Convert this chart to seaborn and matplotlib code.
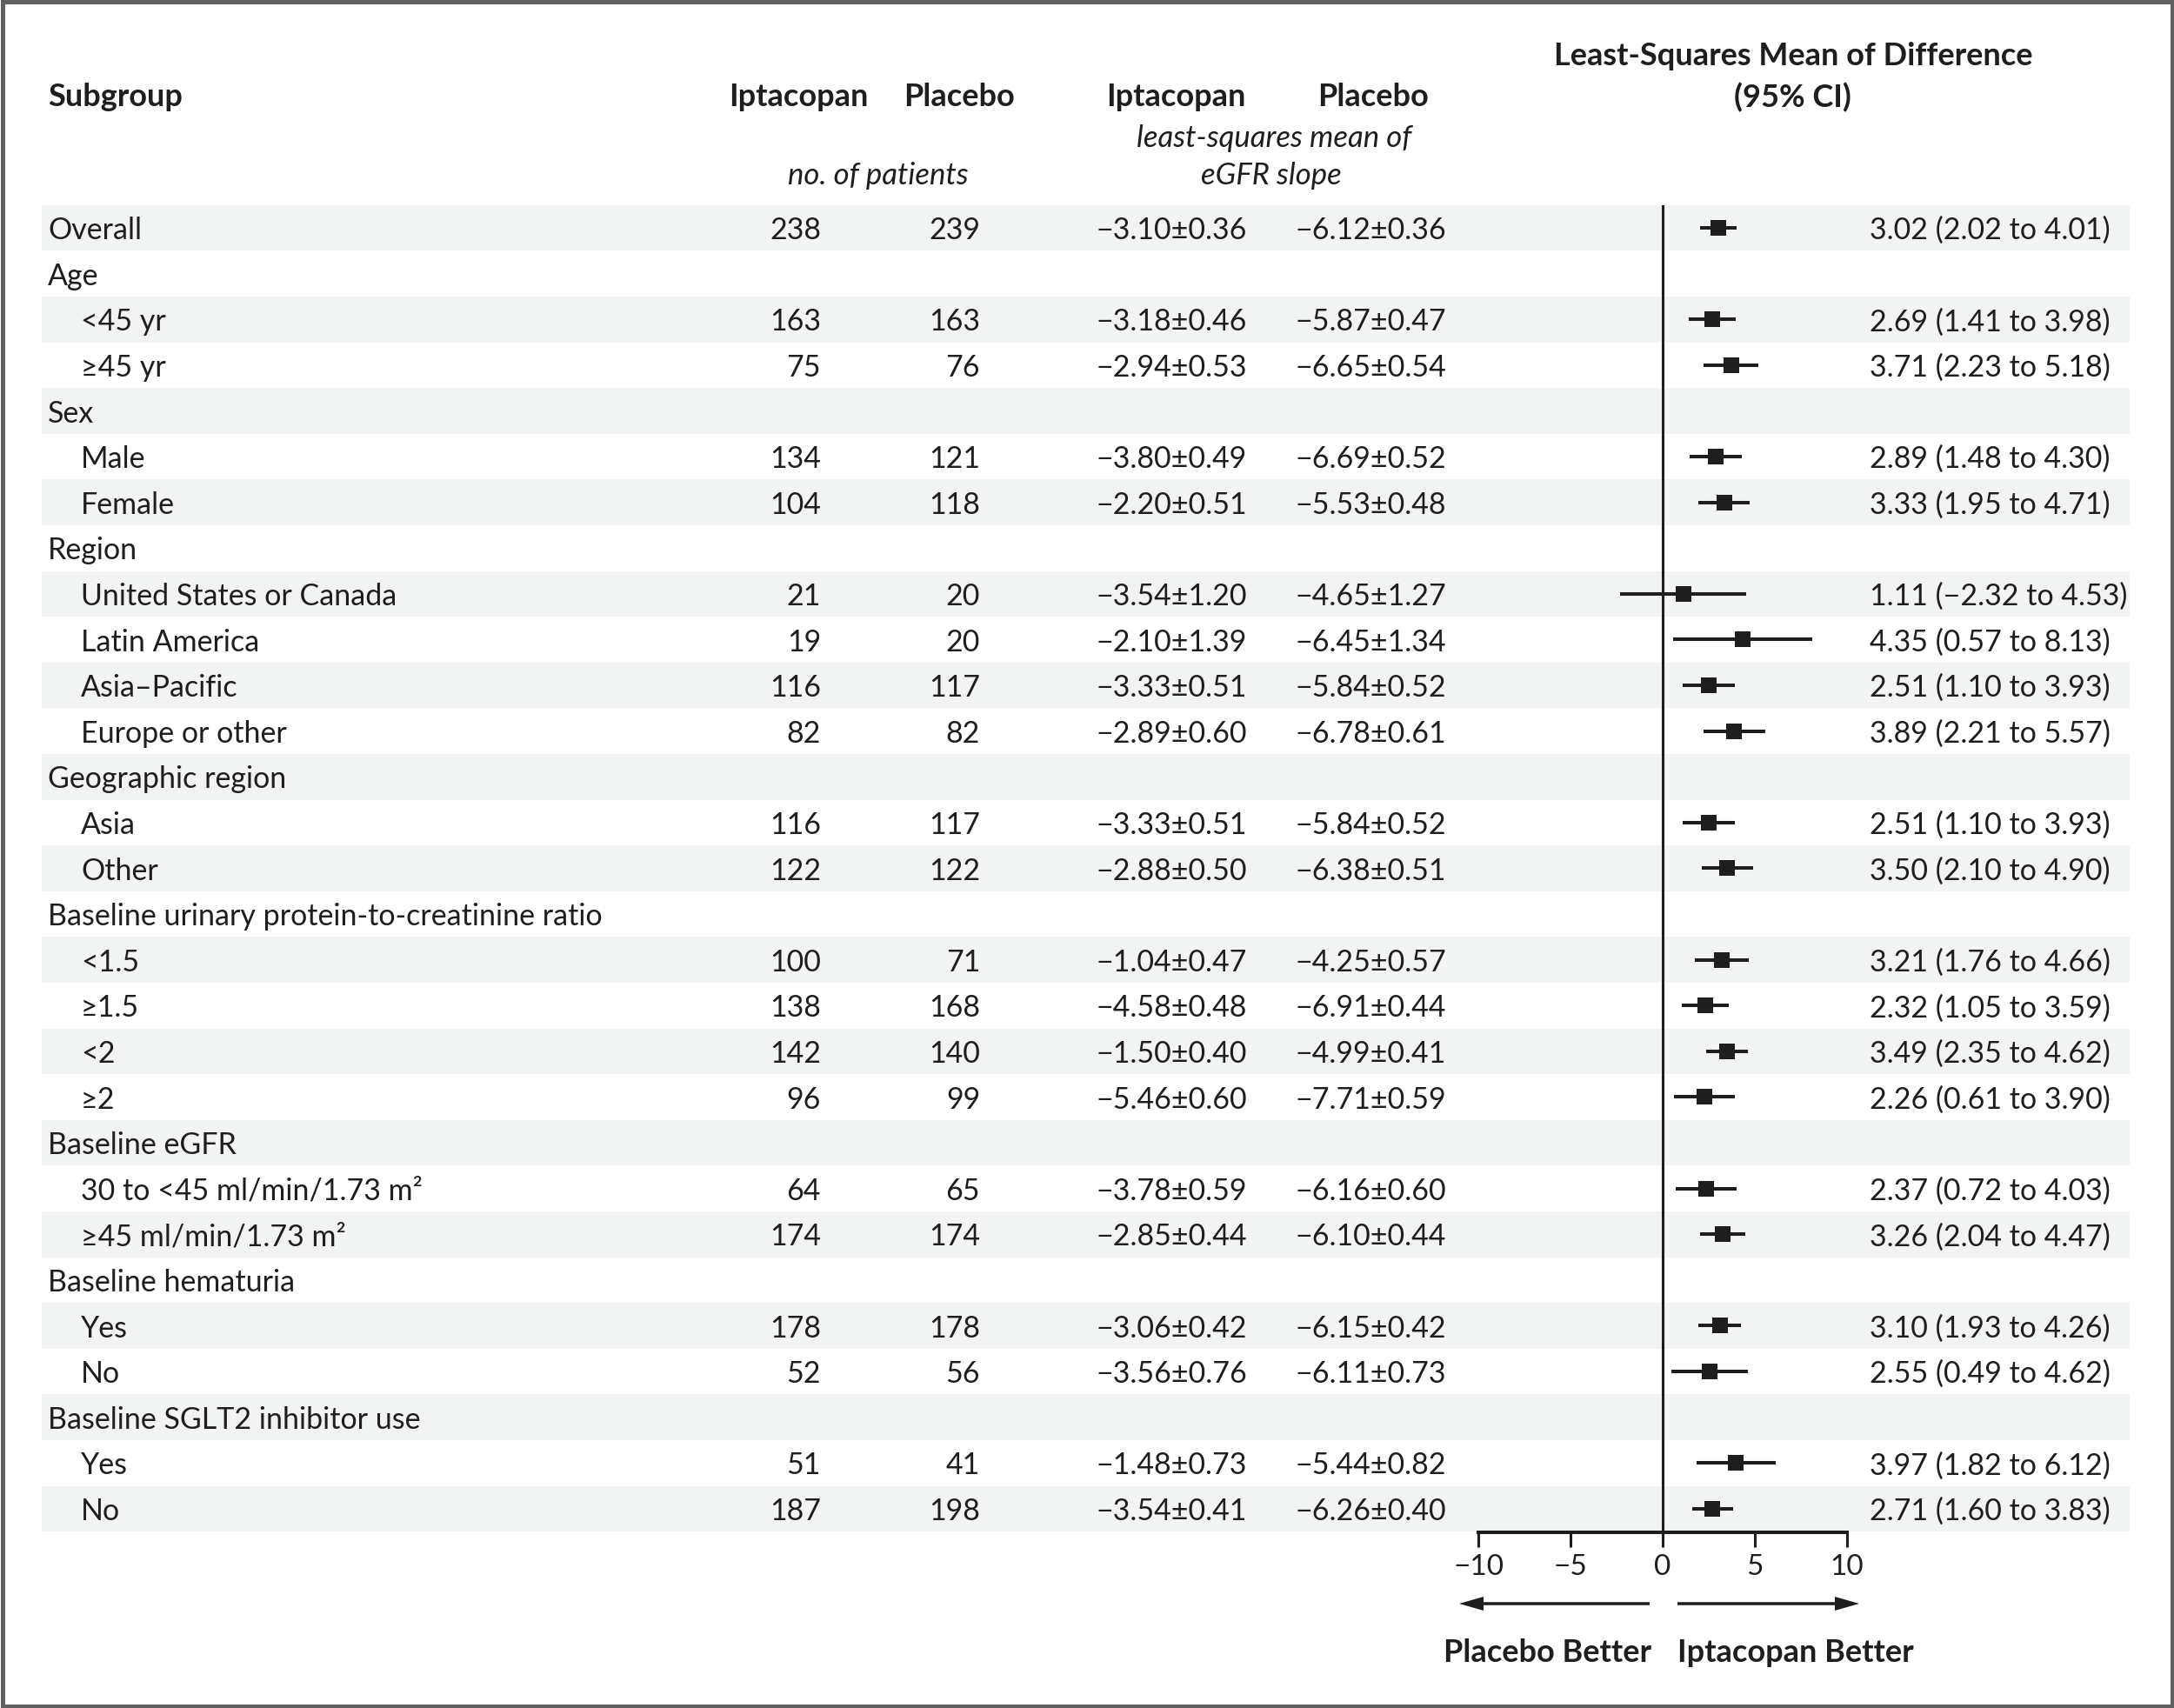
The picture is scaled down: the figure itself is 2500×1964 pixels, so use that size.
import numpy as np
import pandas as pd
import matplotlib
matplotlib.use("Agg")
import matplotlib.pyplot as plt
import matplotlib.transforms as mtransforms
from matplotlib.patches import Rectangle, FancyArrow
import seaborn as sns

# ---------------- data ----------------
subgroups = [
    "Overall", "Age", "<45 yr", "\u226545 yr", "Sex", "Male", "Female", "Region",
    "United States or Canada", "Latin America", "Asia\u2013Pacific", "Europe or other",
    "Geographic region", "Asia", "Other",
    "Baseline urinary protein-to-creatinine ratio", "<1.5", "\u22651.5", "<2", "\u22652",
    "Baseline eGFR", "30 to <45 ml/min/1.73 m\u00b2", "\u226545 ml/min/1.73 m\u00b2",
    "Baseline hematuria", "Yes", "No", "Baseline SGLT2 inhibitor use", "Yes", "No",
]
indented = [0, 0, 1, 1, 0, 1, 1, 0, 1, 1, 1, 1, 0, 1, 1, 0, 1, 1, 1, 1, 0, 1, 1, 0, 1, 1, 0, 1, 1]
nan = np.nan
n_iptacopan = [238, nan, 163, 75, nan, 134, 104, nan, 21, 19, 116, 82, nan, 116, 122,
               nan, 100, 138, 142, 96, nan, 64, 174, nan, 178, 52, nan, 51, 187]
n_placebo = [239, nan, 163, 76, nan, 121, 118, nan, 20, 20, 117, 82, nan, 117, 122,
             nan, 71, 168, 140, 99, nan, 65, 174, nan, 178, 56, nan, 41, 198]
ls_iptacopan = [-3.10, nan, -3.18, -2.94, nan, -3.80, -2.20, nan, -3.54, -2.10, -3.33, -2.89,
                nan, -3.33, -2.88, nan, -1.04, -4.58, -1.50, -5.46, nan, -3.78, -2.85,
                nan, -3.06, -3.56, nan, -1.48, -3.54]
se_iptacopan = [0.36, nan, 0.46, 0.53, nan, 0.49, 0.51, nan, 1.20, 1.39, 0.51, 0.60,
                nan, 0.51, 0.50, nan, 0.47, 0.48, 0.40, 0.60, nan, 0.59, 0.44,
                nan, 0.42, 0.76, nan, 0.73, 0.41]
ls_placebo = [-6.12, nan, -5.87, -6.65, nan, -6.69, -5.53, nan, -4.65, -6.45, -5.84, -6.78,
              nan, -5.84, -6.38, nan, -4.25, -6.91, -4.99, -7.71, nan, -6.16, -6.10,
              nan, -6.15, -6.11, nan, -5.44, -6.26]
se_placebo = [0.36, nan, 0.47, 0.54, nan, 0.52, 0.48, nan, 1.27, 1.34, 0.52, 0.61,
              nan, 0.52, 0.51, nan, 0.57, 0.44, 0.41, 0.59, nan, 0.60, 0.44,
              nan, 0.42, 0.73, nan, 0.82, 0.40]
diff = [3.02, nan, 2.69, 3.71, nan, 2.89, 3.33, nan, 1.11, 4.35, 2.51, 3.89,
        nan, 2.51, 3.50, nan, 3.21, 2.32, 3.49, 2.26, nan, 2.37, 3.26,
        nan, 3.10, 2.55, nan, 3.97, 2.71]
ci_low = [2.02, nan, 1.41, 2.23, nan, 1.48, 1.95, nan, -2.32, 0.57, 1.10, 2.21,
          nan, 1.10, 2.10, nan, 1.76, 1.05, 2.35, 0.61, nan, 0.72, 2.04,
          nan, 1.93, 0.49, nan, 1.82, 1.60]
ci_high = [4.01, nan, 3.98, 5.18, nan, 4.30, 4.71, nan, 4.53, 8.13, 3.93, 5.57,
           nan, 3.93, 4.90, nan, 4.66, 3.59, 4.62, 3.90, nan, 4.03, 4.47,
           nan, 4.26, 4.62, nan, 6.12, 3.83]
axis_ticks = [-10, -5, 0, 5, 10]

df = pd.DataFrame({
    "label": subgroups, "indent": indented,
    "n_ipt": n_iptacopan, "n_pla": n_placebo,
    "ls_ipt": ls_iptacopan, "se_ipt": se_iptacopan,
    "ls_pla": ls_placebo, "se_pla": se_placebo,
    "diff": diff, "lo": ci_low, "hi": ci_high,
})
df["row"] = np.arange(len(df))

# ---------------- style ----------------
sns.set_theme(style="white")
plt.rcParams["font.family"] = ["Lato", "DejaVu Sans"]
INK = "#1e1e1e"
SHADE = "#f2f4f4"
FS = 24.5      # body text
FS_B = 26      # bold headers
FS_I = 25      # italic sub-headers
FS_T = 24      # tick labels

W, H = 2500, 1965
fig = plt.figure(figsize=(W / 100, H / 100), dpi=100)
fig.patch.set_facecolor("white")

ZERO_PX = 1912.0
PX_PER_UNIT = 21.2
BAND_L, BAND_R = 48.0, 2449.0
ROW0_PX, ROW_PITCH = 263.0, 52.6
nrows = len(df)
top_px = ROW0_PX - ROW_PITCH / 2
bot_px = ROW0_PX + ROW_PITCH * (nrows - 0.5)

ax = fig.add_axes([BAND_L / W, (H - bot_px) / H, (BAND_R - BAND_L) / W, (bot_px - top_px) / H])

for r in df["row"][::2]:
    ax.axhspan(r - 0.5, r + 0.5, color=SHADE, lw=0, zorder=0)

ax.axvline(0, color=INK, lw=2.2, zorder=2)

d = df.dropna(subset=["diff"])
ax.hlines(d["row"], d["lo"], d["hi"], color=INK, lw=2.9, zorder=3)
sns.scatterplot(data=d, x="diff", y="row", marker="s", s=150, color=INK,
                linewidth=0, ax=ax, zorder=4, legend=False)
ax.set_xlim(-(ZERO_PX - BAND_L) / PX_PER_UNIT, (BAND_R - ZERO_PX) / PX_PER_UNIT)
ax.set_ylim(nrows - 0.5, -0.5)
ax.axis("off")

# bottom scale axis
AX_Y = 1763.0
x_lo_px = ZERO_PX + axis_ticks[0] * PX_PER_UNIT
x_hi_px = ZERO_PX + axis_ticks[-1] * PX_PER_UNIT
sax = fig.add_axes([x_lo_px / W, (H - AX_Y) / H, (x_hi_px - x_lo_px) / W, 0.0005])
sax.set_xlim(axis_ticks[0], axis_ticks[-1])
sax.set_facecolor("none")
for s in ["top", "left", "right"]:
    sax.spines[s].set_visible(False)
sax.spines["bottom"].set_color(INK)
sax.spines["bottom"].set_linewidth(2.9)
sax.set_yticks([])
sax.set_xticks(axis_ticks)
sax.set_xticklabels([str(t).replace("-", "\u2212") for t in axis_ticks])
sax.tick_params(axis="x", direction="out", length=12, width=2.2, color=INK,
                labelsize=FS_T, labelcolor=INK, pad=5, bottom=True)

# overlay for text
ov = fig.add_axes([0, 0, 1, 1])
ov.set_xlim(0, W)
ov.set_ylim(H, 0)
ov.axis("off")
ov.set_facecolor("none")

blend = mtransforms.blended_transform_factory(ov.transData, ax.transData)
CAP_HALF = 0.7165 * FS / 2
row_tr = mtransforms.offset_copy(blend, fig=fig, y=-CAP_HALF, units="points")

def fmt(v):
    return f"{v:.2f}".replace("-", "\u2212")

for _, r in df.iterrows():
    x = 93 if r["indent"] else 55
    ov.text(x, r["row"], r["label"], transform=row_tr, fontsize=FS, color=INK,
            ha="left", va="baseline")
    if not np.isnan(r["n_ipt"]):
        ov.text(944, r["row"], f"{int(r['n_ipt'])}", transform=row_tr, fontsize=FS,
                color=INK, ha="right", va="baseline")
        ov.text(1127, r["row"], f"{int(r['n_pla'])}", transform=row_tr, fontsize=FS,
                color=INK, ha="right", va="baseline")
        ov.text(1434, r["row"], f"{fmt(r['ls_ipt'])}\u00b1{fmt(r['se_ipt'])}",
                transform=row_tr, fontsize=FS, color=INK, ha="right", va="baseline")
        ov.text(1663, r["row"], f"{fmt(r['ls_pla'])}\u00b1{fmt(r['se_pla'])}",
                transform=row_tr, fontsize=FS, color=INK, ha="right", va="baseline")
        ov.text(2150, r["row"], f"{fmt(r['diff'])} ({fmt(r['lo'])} to {fmt(r['hi'])})",
                transform=row_tr, fontsize=FS, color=INK, ha="left", va="baseline")

# headers
hb = dict(fontsize=FS_B, color=INK, fontweight="bold", va="baseline")
ov.text(55, 122, "Subgroup", ha="left", **hb)
ov.text(918, 122, "Iptacopan", ha="center", **hb)
ov.text(1103, 122, "Placebo", ha="center", **hb)
ov.text(1352, 122, "Iptacopan", ha="center", **hb)
ov.text(1579, 122, "Placebo", ha="center", **hb)
ov.text(2062, 75, "Least-Squares Mean of Difference", ha="center", **hb)
ov.text(2061, 123, "(95% CI)", ha="center", **hb)
hi_ = dict(fontsize=FS_I, color=INK, fontstyle="italic", va="baseline", ha="center")
ov.text(1010, 212, "no. of patients", **hi_)
ov.text(1465, 169, "least-squares mean of", **hi_)
ov.text(1462, 212, "eGFR slope", **hi_)

# direction arrows and labels
ARR_Y = 1845
ov.add_patch(FancyArrow(1897, ARR_Y, 1678 - 1897, 0, width=3.5, head_width=16, head_length=28,
                        length_includes_head=True, color=INK, lw=0))
ov.add_patch(FancyArrow(1929, ARR_Y, 2138 - 1929, 0, width=3.5, head_width=16, head_length=28,
                        length_includes_head=True, color=INK, lw=0))
ov.text(1780, 1911, "Placebo Better", ha="center", **hb)
ov.text(2065, 1911, "Iptacopan Better", ha="center", **hb)

# frame
ov.add_patch(Rectangle((2.5, 2.5), W - 5, H - 5, fill=False, edgecolor="#616161", lw=3.6))

fig.savefig("out.png", dpi=100, facecolor="white")
